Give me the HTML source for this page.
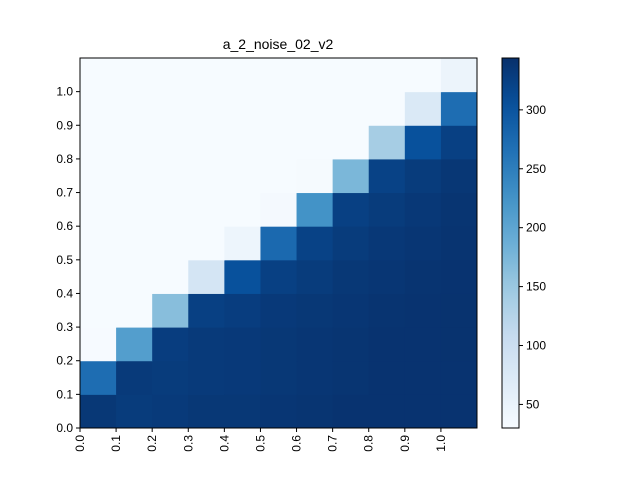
<!DOCTYPE html>
<html><head><meta charset="utf-8"><style>body{margin:0;background:#fff}svg text{font-family:"Liberation Sans",sans-serif;font-size:12px;fill:#000}</style></head>
<body>
<svg id="c" width="640" height="480"></svg>
<script>
const xTicks=["0.0","0.1","0.2","0.3","0.4","0.5","0.6","0.7","0.8","0.9","1.0"];
const yTicks=["0.0","0.1","0.2","0.3","0.4","0.5","0.6","0.7","0.8","0.9","1.0"];
const cbTicks=[50,100,150,200,250,300];
const row0=[335,330,332,335,335,337,338,340,340,340,340];
const row1=[270,332,330,332,333,335,337,338,340,340,340];
const row2=[32,210,328,332,333,335,337,338,340,340,341];
const row3=[31,31,165,325,328,333,335,337,339,340,341];
const row4=[31,31,31,85,305,325,330,335,337,339,340];
const row5=[31,31,31,31,45,275,322,330,334,337,339];
const row6=[31,31,31,31,31,35,225,325,330,334,338];
const row7=[31,31,31,31,31,31,33,175,322,330,336];
const row8=[31,31,31,31,31,31,31,31,140,305,325];
const row9=[31,31,31,31,31,31,31,31,31,75,270];
const row10=[31,31,31,31,31,31,31,31,31,31,48];
const rows=[row0,row1,row2,row3,row4,row5,row6,row7,row8,row9,row10];
const vmin=30,vmax=344;
const L=80,R=477,T=58,B=428;
const N=11;
const sx=v=>L+(R-L)*v/N, sy=v=>B-(B-T)*v/N;
const stops=[[247,251,255],[222,235,247],[198,219,239],[158,202,225],[107,174,214],[66,146,198],[33,113,181],[8,81,156],[8,48,107]];
function blues(v){let t=Math.max(0,Math.min(1,(v-vmin)/(vmax-vmin)))*8;let i=Math.min(7,Math.floor(t)),f=t-i;const a=stops[i],b=stops[i+1];return`rgb(${a.map((c,k)=>Math.round(c+(b[k]-c)*f)).join(',')})`;}
const svg=document.getElementById('c');const NS="http://www.w3.org/2000/svg";
function el(tag,attrs,txt){const e=document.createElementNS(NS,tag);for(const k in attrs)e.setAttribute(k,attrs[k]);if(txt!=null)e.textContent=txt;svg.appendChild(e);return e;}
rows.forEach((r,ri)=>r.forEach((v,ci)=>{const e=el('rect',{x:sx(ci),y:sy(ri+1),width:sx(ci+1)-sx(ci)+0.5,height:sy(ri)-sy(ri+1)+0.5,fill:blues(v)});

}));
const fr=el('rect',{x:L,y:T,width:R-L,height:B-T,fill:'none',stroke:'#000','stroke-width':1});

xTicks.forEach((t,i)=>{const x=sx(i);el('line',{x1:x,x2:x,y1:B,y2:B+4,stroke:'#000'});
const e=el('text',{x:x+4,y:B+7,transform:`rotate(-90 ${x+4} ${B+7})`,'text-anchor':'end'},t);
});
yTicks.forEach((t,i)=>{const y=sy(i);el('line',{x1:L-4,x2:L,y1:y,y2:y,stroke:'#000'});
const e=el('text',{x:L-7,y:y+4,'text-anchor':'end'},t);
});
const ti=el('text',{x:278,y:49,'text-anchor':'middle',style:'font-size:14px'},'a_2_noise_02_v2');

// colorbar
const CL=502,CR=519;
const g=el('defs',{});const lg=document.createElementNS(NS,'linearGradient');lg.setAttribute('id','gr');lg.setAttribute('x1','0');lg.setAttribute('y1','1');lg.setAttribute('x2','0');lg.setAttribute('y2','0');
for(let k=0;k<=20;k++){const s=document.createElementNS(NS,'stop');s.setAttribute('offset',k/20);s.setAttribute('stop-color',blues(vmin+(vmax-vmin)*k/20));lg.appendChild(s);}g.appendChild(lg);
const cb=el('rect',{x:CL,y:T,width:CR-CL,height:B-T,fill:'url(#gr)',stroke:'#000'});

const cy=v=>B-(B-T)*(v-vmin)/(vmax-vmin);
cbTicks.forEach(v=>{const y=cy(v);el('line',{x1:CR,x2:CR+4,y1:y,y2:y,stroke:'#000'});
const e=el('text',{x:CR+7,y:y+4},String(v));
});
</script>
</body></html>
